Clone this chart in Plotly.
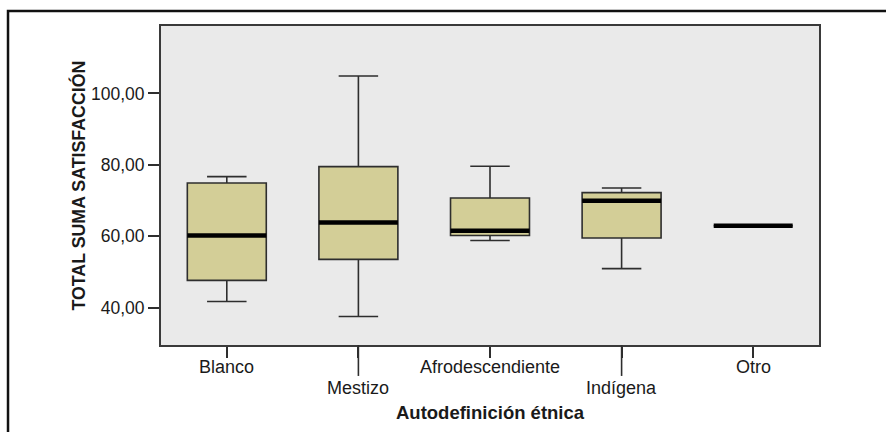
import plotly.graph_objects as go

# Satisfaction totals by ethnic self-identification (box summary statistics)
categories = ["Blanco", "Mestizo", "Afrodescendiente", "Indígena", "Otro"]
lower_fence = [41.7, 37.5, 58.8, 50.9, 62.9]
q1 = [47.6, 53.5, 60.2, 59.5, 62.9]
median = [60.2, 63.8, 61.5, 69.9, 62.9]
q3 = [74.9, 79.5, 70.7, 72.2, 62.9]
upper_fence = [76.7, 104.9, 79.6, 73.5, 62.9]

y_tick_values = [40, 60, 80, 100]
y_tick_labels = ["40,00", "60,00", "80,00", "100,00"]

x_title = "Autodefinición étnica"
y_title = "TOTAL SUMA SATISFACCIÓN"

# labels pushed down a line alternate with the ones above them
staggered = [False, True, False, True, False]

positions = list(range(len(categories)))
x_range = [-0.5, len(categories) - 0.5]
box_width = 0.6
font_family = "Arial, Liberation Sans, sans-serif"
ink = "#1a1a1a"
edge = "#2e2e2e"

fig = go.Figure()

fig.add_trace(go.Box(
    x=positions,
    q1=q1,
    median=median,
    q3=q3,
    lowerfence=lower_fence,
    upperfence=upper_fence,
    width=box_width,
    whiskerwidth=0.5,
    fillcolor="#D3CE97",
    line=dict(color=edge, width=1.6),
    hoverinfo="skip",
    showlegend=False,
))

# heavy median bars drawn across each box
med_x, med_y = [], []
for p, m in zip(positions, median):
    med_x += [p - box_width / 2, p + box_width / 2, None]
    med_y += [m, m, None]
fig.add_trace(go.Scatter(
    x=med_x, y=med_y, mode="lines",
    line=dict(color="#000000", width=4.5),
    hoverinfo="skip", showlegend=False,
))

shapes = [
    # outer frame around the whole figure
    dict(type="rect", xref="paper", yref="paper",
         x0=-0.2325, x1=1.3, y0=-0.6, y1=1.047,
         line=dict(color="#111111", width=2.5), fillcolor="rgba(0,0,0,0)",
         layer="below"),
]
annotations = []
for p, s, name in zip(positions, staggered, categories):
    if s:
        # longer tick mark reaching down to a lowered label (paper coords so it is not clipped)
        px = (p - x_range[0]) / (x_range[1] - x_range[0])
        shapes.append(dict(type="line", xref="paper", yref="paper",
                           x0=px, x1=px, y0=0, y1=-0.097,
                           line=dict(color=edge, width=1.6)))
    annotations.append(dict(
        text=name, xref="x", yref="paper", x=p,
        y=-0.135 if s else -0.069, yanchor="middle", xanchor="center",
        showarrow=False, font=dict(size=18, family=font_family, color=ink),
    ))

annotations.append(dict(
    text=x_title, xref="paper", yref="paper", x=0.5, y=-0.213,
    xanchor="center", yanchor="middle", showarrow=False,
    font=dict(size=18.5, family=font_family, color=ink, weight="bold"),
))
annotations.append(dict(
    text=y_title, xref="paper", yref="paper", x=-0.126, y=0.5,
    xanchor="center", yanchor="middle", textangle=-90, showarrow=False,
    font=dict(size=17.8, family=font_family, color=ink, weight="bold"),
))

fig.update_layout(
    width=886, height=432,
    margin=dict(l=161, r=67, t=26, b=87),
    paper_bgcolor="white",
    plot_bgcolor="#EAEAEA",
    font=dict(family=font_family, color=ink, size=18),
    shapes=shapes,
    annotations=annotations,
    xaxis=dict(
        range=x_range,
        tickmode="array", tickvals=positions, showticklabels=False,
        ticks="outside", ticklen=11, tickwidth=1.6, tickcolor=edge,
        showgrid=False, zeroline=False,
        showline=True, linecolor="#3a3a3a", linewidth=2, mirror=True,
    ),
    yaxis=dict(
        range=[29.5, 118.9],
        tickmode="array", tickvals=y_tick_values, ticktext=y_tick_labels,
        ticks="outside", ticklen=11, tickwidth=1.6, tickcolor=edge,
        tickfont=dict(size=17.5, family=font_family, color=ink),
        showgrid=False, zeroline=False,
        showline=True, linecolor="#3a3a3a", linewidth=2, mirror=True,
    ),
)

fig.write_html("out.html")
